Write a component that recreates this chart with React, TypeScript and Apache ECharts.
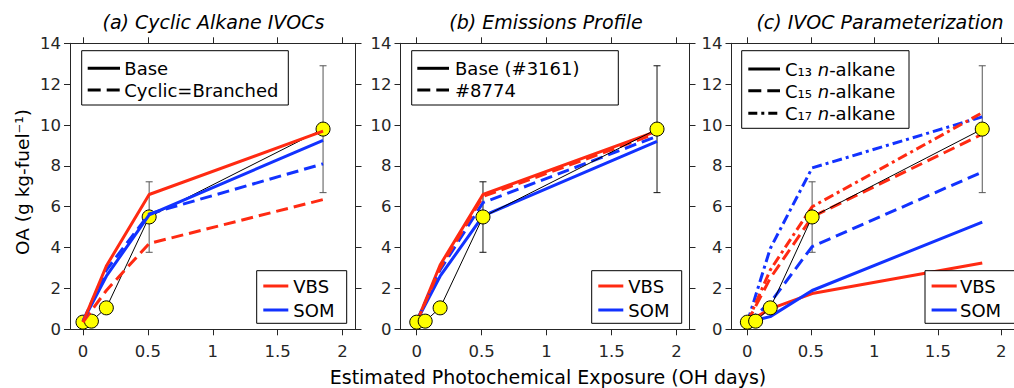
import React, { useEffect, useRef } from 'react';
import * as echarts from 'echarts';

const FONT = 'DejaVu Sans';
const RED = '#ff2a12';
const BLUE = '#1232ff';
const AXIS = '#262626';
const DASH = [12, 6];
const DASHDOT = [10, 4, 3, 4];

// ---- data ----
const xTicks = [0, 0.5, 1, 1.5, 2];
const modelX = [0, 0.18, 0.51, 1.85];
const obsX = [0, 0.065, 0.18, 0.51, 1.85];
const obsY = [0.35, 0.4, 1.05, 5.5, 9.8];
const errX = [0.51, 1.85];
const errLow = [3.77, 6.69];
const errHigh = [7.22, 12.9];

// (a) Cyclic Alkane IVOCs
const aVbsBase = [0.35, 3.1, 6.6, 9.7];
const aSomBase = [0.4, 2.6, 5.6, 9.25];
const aVbsCyclic = [0.35, 1.9, 4.2, 6.35];
const aSomCyclic = [0.4, 2.9, 5.65, 8.1];

// (b) Emissions Profile
const bVbsBase = [0.35, 3.15, 6.6, 9.7];
const bSomBase = [0.4, 2.6, 5.55, 9.2];
const bVbs8774 = [0.35, 3.0, 6.5, 9.6];
const bSom8774 = [0.4, 2.9, 6.2, 9.45];

// (c) IVOC Parameterization
const cVbsC13 = [0.35, 1.0, 1.75, 3.25];
const cSomC13 = [0.35, 0.62, 1.9, 5.25];
const cVbsC15 = [0.35, 2.5, 5.5, 9.55];
const cSomC15 = [0.35, 1.3, 4.05, 7.7];
const cVbsC17 = [0.35, 2.9, 6.0, 10.6];
const cSomC17 = [0.35, 3.95, 7.9, 10.4];

const titles = ['(a) Cyclic Alkane IVOCs', '(b) Emissions Profile', '(c) IVOC Parameterization'];

// ---- layout ----
const layouts = [
  { left: 70, width: 285.5, xMin: -0.1, titleX: 213.5, errColor: '#555555' },
  { left: 400.5, width: 289, xMin: -0.125, titleX: 546, errColor: '#111111' },
  { left: 731.5, width: 289, xMin: -0.125, titleX: 880, errColor: '#555555' },
];
const TOP = 43.3;
const HEIGHT = 286;

function modelSeries(panel: number, name: string, ys: number[], color: string, dash: any, z: number) {
  return {
    type: 'line',
    name,
    xAxisIndex: panel * 2,
    yAxisIndex: panel * 2,
    data: modelX.map((x, i) => [x, ys[i]]),
    symbol: 'none',
    showSymbol: false,
    silent: true,
    lineStyle: { color, width: 3, type: dash },
    z,
  };
}

function obsSeries(panel: number, z: number) {
  return {
    type: 'line',
    name: 'Observed',
    xAxisIndex: panel * 2,
    yAxisIndex: panel * 2,
    data: obsX.map((x, i) => [x, obsY[i]]),
    symbol: 'circle',
    symbolSize: 14,
    showSymbol: true,
    silent: true,
    itemStyle: { color: '#ffff00', borderColor: '#000', borderWidth: 1 },
    lineStyle: { color: '#000', width: 1 },
    z,
  };
}

function errSeries(panel: number, color: string) {
  return {
    type: 'custom',
    xAxisIndex: panel * 2,
    yAxisIndex: panel * 2,
    silent: true,
    z: 1,
    data: errX.map((x, i) => [x, errLow[i], errHigh[i]]),
    encode: { x: 0, y: [1, 2] },
    renderItem: (params: any, api: any) => {
      const x = api.value(0);
      const p1 = api.coord([x, api.value(1)]);
      const p2 = api.coord([x, api.value(2)]);
      const c = 3.5;
      const st = { stroke: color, lineWidth: 1 };
      return {
        type: 'group',
        children: [
          { type: 'line', shape: { x1: p1[0], y1: p1[1], x2: p2[0], y2: p2[1] }, style: st },
          { type: 'line', shape: { x1: p1[0] - c, y1: p1[1], x2: p1[0] + c, y2: p1[1] }, style: st },
          { type: 'line', shape: { x1: p2[0] - c, y1: p2[1], x2: p2[0] + c, y2: p2[1] }, style: st },
        ],
      };
    },
  };
}

function legendBox(x: number, y: number, w: number, h: number) {
  return { type: 'rect', z: 100, shape: { x, y, width: w, height: h }, style: { fill: '#fff', stroke: '#000', lineWidth: 1 } };
}
function legendLine(x1: number, x2: number, y: number, color: string, dash?: number[]) {
  return { type: 'line', z: 101, shape: { x1, y1: y, x2, y2: y }, style: { stroke: color, lineWidth: 3, lineDash: dash || null } };
}
function legendText(x: number, y: number, text: string) {
  return { type: 'text', z: 101, x, y, style: { text, fill: '#000', fontSize: 18, fontFamily: FONT, verticalAlign: 'middle', align: 'left' } };
}
function legendRich(x: number, y: number, sub: string) {
  return {
    type: 'text', z: 101, x, y,
    style: {
      text: `{r|C${sub} }{i|n}{r|-alkane}`,
      fill: '#000',
      verticalAlign: 'middle',
      align: 'left',
      rich: {
        r: { fontSize: 18, fontFamily: FONT, fill: '#000' },
        i: { fontSize: 18, fontFamily: FONT, fontStyle: 'italic', fill: '#000' },
      },
    },
  };
}

function buildOption() {
  const grid: any[] = [];
  const xAxis: any[] = [];
  const yAxis: any[] = [];
  const title: any[] = [];
  layouts.forEach((l, i) => {
    grid.push({ left: l.left, top: TOP, width: l.width, height: HEIGHT, containLabel: false });
    const baseX = {
      type: 'value', gridIndex: i, min: l.xMin, max: 2.1,
      axisLine: { show: true, onZero: false, lineStyle: { color: AXIS, width: 1 } },
      axisTick: { show: true, inside: false, length: 6, customValues: xTicks, lineStyle: { color: AXIS } },
      splitLine: { show: false },
    };
    xAxis.push({
      ...baseX, position: 'bottom',
      axisLabel: { show: true, customValues: xTicks, formatter: (v: number) => String(v), fontSize: 16.5, fontFamily: FONT, color: AXIS, margin: 14 },
    });
    xAxis.push({ ...baseX, position: 'top', axisLabel: { show: false } });
    const baseY = {
      type: 'value', gridIndex: i, min: 0, max: 14, interval: 2,
      axisLine: { show: true, onZero: false, lineStyle: { color: AXIS, width: 1 } },
      axisTick: { show: true, inside: false, length: 6, lineStyle: { color: AXIS } },
      splitLine: { show: false },
    };
    yAxis.push({
      ...baseY, position: 'left',
      axisLabel: { show: true, fontSize: 16.5, fontFamily: FONT, color: AXIS, margin: 9 },
    });
    yAxis.push({ ...baseY, position: 'right', axisLabel: { show: false } });
    title.push({
      text: titles[i], left: l.titleX, top: 12, textAlign: 'center', padding: 0,
      textStyle: { fontSize: 19, fontStyle: 'italic', fontWeight: 'normal', fontFamily: FONT, color: '#000' },
    });
  });

  const series: any[] = [];
  layouts.forEach((l, i) => series.push(errSeries(i, l.errColor)));
  // panel a
  series.push(obsSeries(0, 2));
  series.push(modelSeries(0, 'VBS Cyclic=Branched', aVbsCyclic, RED, DASH, 3));
  series.push(modelSeries(0, 'SOM Cyclic=Branched', aSomCyclic, BLUE, DASH, 3));
  series.push(modelSeries(0, 'SOM Base', aSomBase, BLUE, 'solid', 3));
  series.push(modelSeries(0, 'VBS Base', aVbsBase, RED, 'solid', 3));
  // panel b
  series.push(modelSeries(1, 'SOM Base (#3161)', bSomBase, BLUE, 'solid', 3));
  series.push(modelSeries(1, 'VBS Base (#3161)', bVbsBase, RED, 'solid', 3));
  series.push(modelSeries(1, 'SOM #8774', bSom8774, BLUE, DASH, 3));
  series.push(modelSeries(1, 'VBS #8774', bVbs8774, RED, DASH, 3));
  series.push(obsSeries(1, 4));
  // panel c
  series.push(modelSeries(2, 'VBS C13', cVbsC13, RED, 'solid', 3));
  series.push(modelSeries(2, 'SOM C13', cSomC13, BLUE, 'solid', 3));
  series.push(modelSeries(2, 'SOM C15', cSomC15, BLUE, DASH, 3));
  series.push(modelSeries(2, 'VBS C15', cVbsC15, RED, DASH, 3));
  series.push(modelSeries(2, 'SOM C17', cSomC17, BLUE, DASHDOT, 3));
  series.push(modelSeries(2, 'VBS C17', cVbsC17, RED, DASHDOT, 3));
  series.push(obsSeries(2, 4));

  const graphic: any[] = [
    // panel a legends
    legendBox(81.7, 50.7, 206.6, 54.3),
    legendLine(87.7, 120, 68.3, '#000'),
    legendText(124.3, 68.8, 'Base'),
    legendLine(87.7, 120, 90, '#000', [13, 6]),
    legendText(124.3, 90.5, 'Cyclic=Branched'),
    legendBox(256.7, 270.7, 90, 52.6),
    legendLine(263.3, 288.3, 286, RED),
    legendText(293.3, 286.5, 'VBS'),
    legendLine(263.3, 288.3, 310, BLUE),
    legendText(293.3, 310.5, 'SOM'),
    // panel b legends
    legendBox(411.7, 50.7, 206.6, 54.3),
    legendLine(417.3, 449, 68.3, '#000'),
    legendText(455, 68.8, 'Base (#3161)'),
    legendLine(417.3, 449, 90, '#000', [13, 6]),
    legendText(455, 90.5, '#8774'),
    legendBox(591.7, 270.7, 90, 52.6),
    legendLine(598.3, 623.3, 286, RED),
    legendText(628.3, 286.5, 'VBS'),
    legendLine(598.3, 623.3, 310, BLUE),
    legendText(628.3, 310.5, 'SOM'),
    // panel c legends
    legendBox(741.7, 50.7, 167.3, 77.6),
    legendLine(748.3, 780, 69, '#000'),
    legendRich(785, 69.5, '₁₃'),
    legendLine(748.3, 780, 90.7, '#000', [13, 6]),
    legendRich(785, 91.2, '₁₅'),
    legendLine(748.3, 780, 113.3, '#000', [9, 4, 3, 4]),
    legendRich(785, 113.8, '₁₇'),
    legendBox(925, 270.7, 95, 52.6),
    legendLine(931.6, 956.7, 286, RED),
    legendText(960, 286.5, 'VBS'),
    legendLine(931.6, 956.7, 310, BLUE),
    legendText(960, 310.5, 'SOM'),
    // axis names
    {
      type: 'text', z: 101, x: 22, y: 182, rotation: Math.PI / 2,
      style: { text: 'OA (g kg-fuel⁻¹)', fill: '#000', fontSize: 18.5, fontFamily: FONT, align: 'center', verticalAlign: 'middle' },
    },
    {
      type: 'text', z: 101, x: 548, y: 377,
      style: { text: 'Estimated Photochemical Exposure (OH days)', fill: '#000', fontSize: 19, fontFamily: FONT, align: 'center', verticalAlign: 'middle' },
    },
  ];

  return {
    animation: false,
    backgroundColor: '#fff',
    textStyle: { fontFamily: FONT },
    title,
    grid,
    xAxis,
    yAxis,
    series,
    graphic,
  };
}

export default function App() {
  const ref = useRef<HTMLDivElement>(null);
  useEffect(() => {
    if (!ref.current) return;
    const chart = echarts.init(ref.current, undefined, { renderer: 'svg' });
    chart.setOption(buildOption() as any);
    return () => chart.dispose();
  }, []);
  return <div ref={ref} style={{ position: 'absolute', left: 0, top: 0, width: 1014, height: 388 }} />;
}
